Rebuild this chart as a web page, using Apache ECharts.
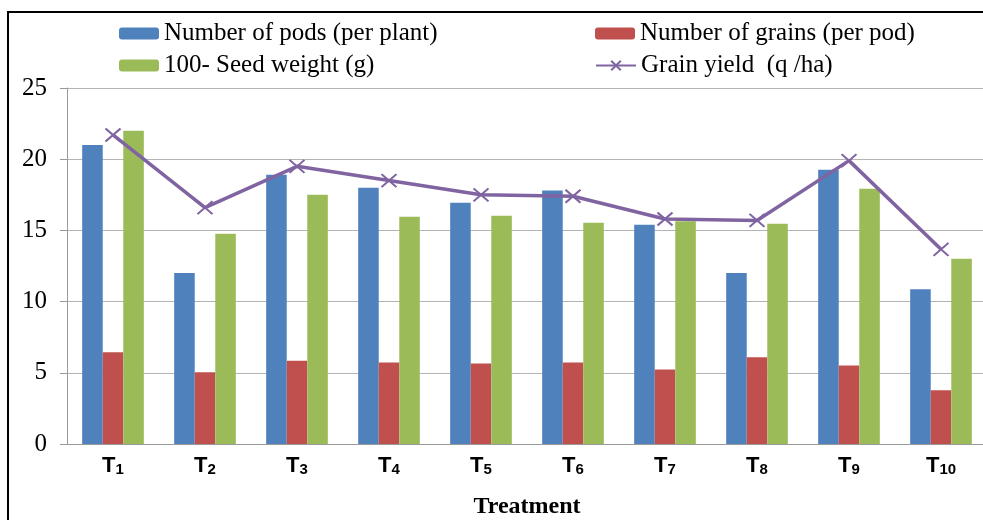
<!DOCTYPE html>
<html>
<head>
<meta charset="utf-8">
<script src="https://cdn.jsdelivr.net/npm/echarts@6/dist/echarts.min.js"></script>
<style>
html,body{margin:0;padding:0;background:#fff;overflow:hidden;}
#c{width:983px;height:520px;}
</style>
</head>
<body>
<div id="c"></div>
<script>
var categories = ['1','2','3','4','5','6','7','8','9','10'];
var pods = [21.0, 12.0, 18.9, 18.0, 16.95, 17.8, 15.4, 12.0, 19.26, 10.86];
var grains = [6.44, 5.03, 5.85, 5.73, 5.66, 5.73, 5.24, 6.09, 5.52, 3.77];
var seedWeight = [22.0, 14.77, 17.5, 15.96, 16.03, 15.54, 15.64, 15.47, 17.93, 13.01];
var grainYield = [21.7, 16.6, 19.5, 18.5, 17.5, 17.4, 15.8, 15.7, 19.9, 13.67];
var seriesNames = ['Number of pods (per plant)', 'Number of grains (per pod)', '100- Seed weight (g)', 'Grain yield  (q /ha)'];
var yTicks = [0, 5, 10, 15, 20, 25];

var chart = echarts.init(document.getElementById('c'), null, {renderer:'canvas', width:983, height:520});
var serif = 'Liberation Serif';
function leg(name, left, top){
  return {
    data:[name], left:left, top:top, orient:'horizontal',
    itemWidth:40, itemHeight:12, itemGap:5, padding:0,
    textStyle:{fontFamily:serif, fontSize:25, color:'#000'},
    selectedMode:false
  };
}
var crossSym = 'path://M0,0L14,12M14,0L0,12';
chart.setOption({
  animation:false,
  backgroundColor:'#fff',
  graphic:[{type:'rect', shape:{x:8, y:12, width:1000, height:600}, style:{fill:'none', stroke:'#000', lineWidth:2}, z:100}],
  legend:[
    leg(seriesNames[0], 119, 21),
    leg(seriesNames[1], 595, 21),
    leg(seriesNames[2], 119, 53),
    leg(seriesNames[3], 595, 53)
  ],
  grid:{left:67, top:88, right:-4, bottom:76, containLabel:false, outerBoundsMode:'none'},
  xAxis:{
    type:'category', data:categories, boundaryGap:true,
    name:'Treatment', nameLocation:'middle', nameGap:51,
    nameTextStyle:{fontFamily:serif, fontSize:24, fontWeight:'bold', color:'#000'},
    axisLine:{lineStyle:{color:'#999', width:1}},
    axisTick:{length:5, lineStyle:{color:'#999'}},
    axisLabel:{
      margin:11, interval:0,
      formatter:function(v){return '{a|T}{b|'+v+'}';},
      rich:{
        a:{fontFamily:'Liberation Sans', fontWeight:'bold', fontSize:22, color:'#000', lineHeight:22, verticalAlign:'bottom'},
        b:{fontFamily:'Liberation Sans', fontWeight:'bold', fontSize:15, color:'#000', lineHeight:22, verticalAlign:'bottom'}
      }
    }
  },
  yAxis:{
    type:'value', min:yTicks[0], max:yTicks[yTicks.length-1], interval:5,
    axisLine:{show:true, lineStyle:{color:'#999', width:1}},
    axisTick:{show:true, length:7, lineStyle:{color:'#999'}},
    axisLabel:{fontFamily:serif, fontSize:25, color:'#000', margin:20},
    splitLine:{lineStyle:{color:'#B4B4B4', width:1}}
  },
  series:[
    {name:seriesNames[0], type:'bar', data:pods, barGap:'0%', barCategoryGap:'33%', itemStyle:{color:'#4F81BD'}},
    {name:seriesNames[1], type:'bar', data:grains, barGap:'0%', barCategoryGap:'33%', itemStyle:{color:'#C0504D'}},
    {name:seriesNames[2], type:'bar', data:seedWeight, barGap:'0%', barCategoryGap:'33%', itemStyle:{color:'#9BBB59'}},
    {name:seriesNames[3], type:'line', data:grainYield, symbol:crossSym, symbolSize:[15,13],
      lineStyle:{color:'#8064A2', width:3.5},
      itemStyle:{color:'#8064A2', borderColor:'#8064A2', borderWidth:2}, z:5}
  ]
});
</script>
</body>
</html>
